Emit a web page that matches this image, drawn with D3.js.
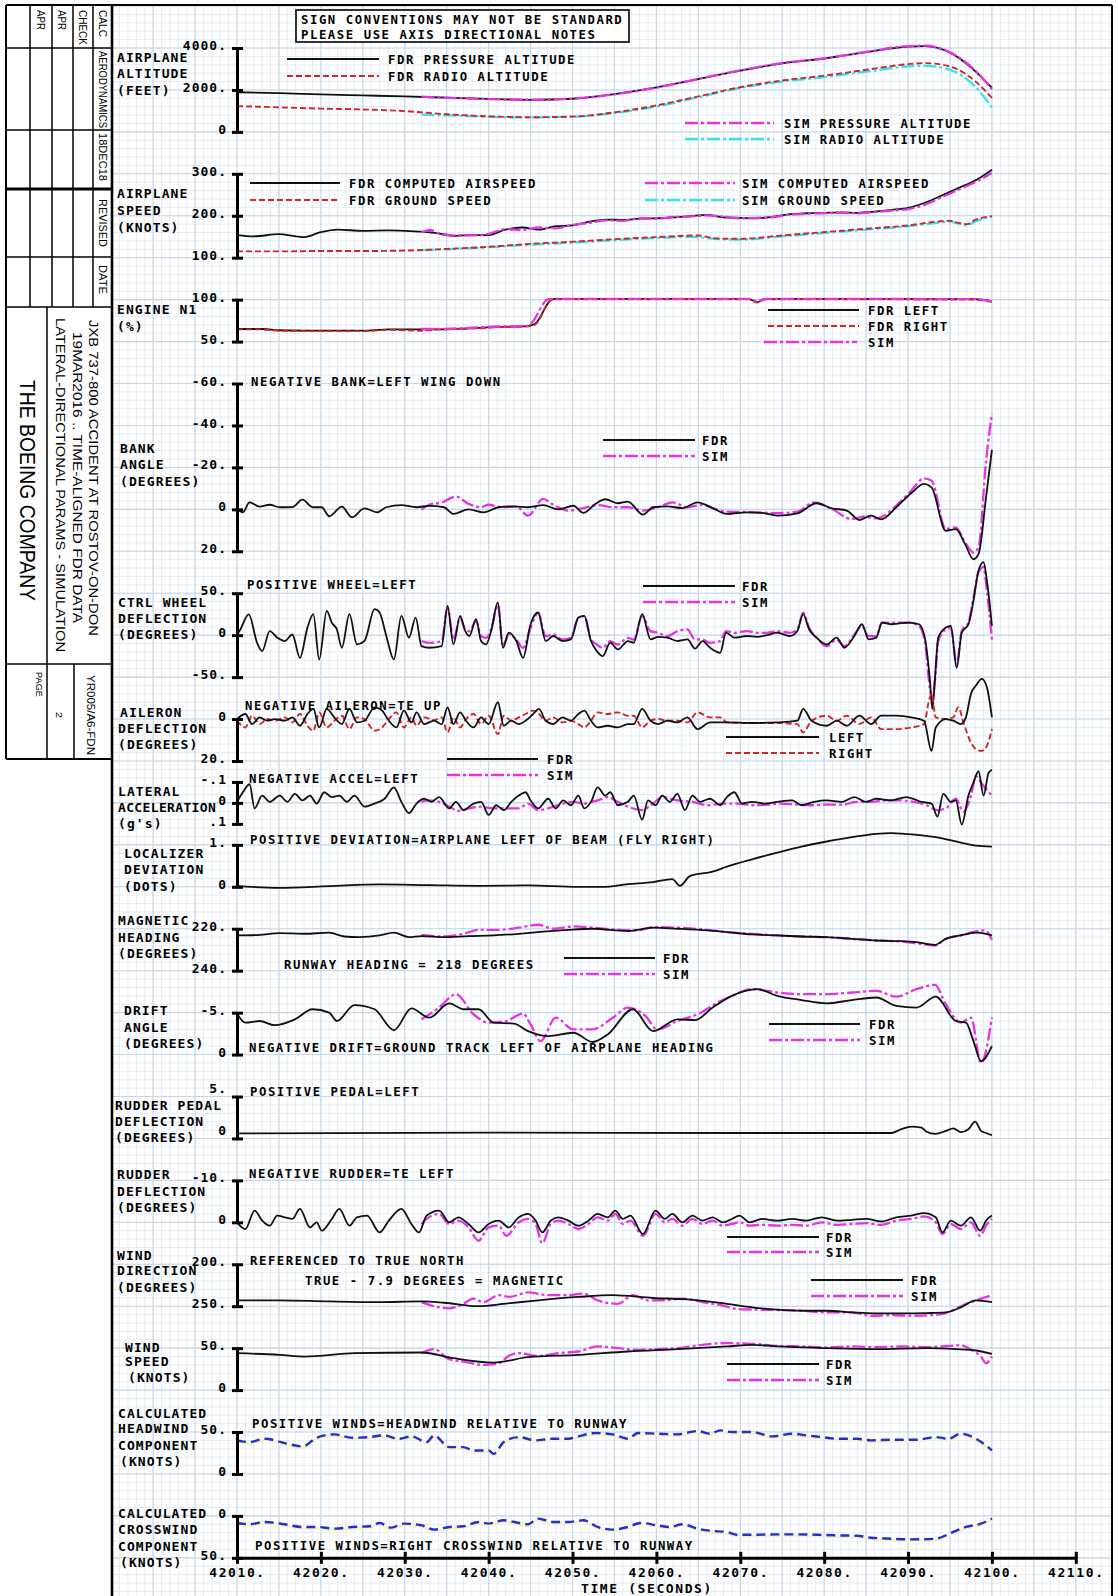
<!DOCTYPE html>
<html><head><meta charset="utf-8">
<script src="https://cdn.jsdelivr.net/npm/d3@7"></script>
<style>
html,body{margin:0;padding:0;background:#fff;}
svg{display:block;}
</style></head><body>
<script>
// ---------- time base ----------
const T0 = 42010;                       // seconds; series times are offsets from T0
const timeTicks = d3.range(42010, 42111, 10);

// ---------- tick values per panel ----------
const altTicks = [4000, 2000, 0];
const speedTicks = [300, 200, 100];
const n1Ticks = [100, 50];
const bankTicks = [-60, -40, -20, 0, 20];
const wheelTicks = [50, 0, -50];
const aileronTicks = [0, 20];
const latTicks = [-0.1, 0, 0.1];
const locTicks = [1, 0];
const headingTicks = [220, 240];
const driftTicks = [-5, 0];
const pedalTicks = [5, 0];
const rudderTicks = [-10, 0];
const windDirTicks = [200, 250];
const windSpdTicks = [50, 0];
const headwindTicks = [50, 0];
const crosswindTicks = [0, 50];

// ---------- series: [seconds after T0, value] ----------
const altFdrPressure = [[0,1890],[5,1850],[10,1790],[15,1740],[20,1690],[25,1630],[30,1570],[35,1530],[40,1580],[45,1800],[50,2120],[55,2520],[60,2920],[65,3270],[70,3500],[75,3800],[80,4070],[82,4090],[85,3780],[88,2900],[90,2100]];
const altFdrRadio = [[0,1230],[5,1170],[10,1110],[15,1070],[20,990],[25,840],[30,740],[35,700],[40,730],[45,930],[50,1260],[55,1690],[60,2130],[65,2450],[70,2680],[75,2960],[80,3230],[82,3280],[85,3120],[88,2420],[90,1620]];
const altSimPressure = [[22,1680],[25,1625],[30,1565],[35,1535],[40,1585],[45,1790],[50,2110],[55,2530],[60,2930],[65,3280],[70,3510],[75,3810],[80,4090],[82,4110],[85,3790],[88,2930],[90,2030]];
const altSimRadio = [[22,820],[25,790],[30,720],[35,690],[40,720],[45,900],[50,1210],[55,1650],[60,2100],[65,2400],[70,2610],[75,2870],[80,3120],[82,3150],[85,2960],[88,2160],[90,1170]];

const spdFdrCas = [[0,154],[2,151],[5,156],[7,151],[8,149],[10,161],[12,167],[15,164],[18,165],[20,164],[22,162],[24,158],[26,152],[28,154],[30,154],[32,167],[34,172],[36,167],[38,175],[40,177],[42,186],[44,191],[46,190],[48,193],[50,194],[52,196],[54,199],[56,202],[58,196],[60,195],[62,194],[64,198],[66,204],[68,206],[70,207],[72,208],[74,207],[76,210],[78,214],[80,219],[82,231],[84,248],[86,266],[88,284],[90,310]];
const spdFdrGround = [[0,115],[5,115],[10,116],[15,116],[20,117],[25,121],[30,126],[35,133],[40,138],[45,144],[50,149],[55,153],[57,146],[60,145],[65,153],[70,161],[75,169],[80,177],[83,185],[85,188],[86,183],[87,180],[88,190],[90,199]];
const spdSimCas = [[22,160],[23,166],[24,158],[26,153],[28,153],[30,157],[32,168],[34,166],[36,172],[38,170],[40,178],[42,183],[44,189],[46,188],[48,194],[50,193],[52,197],[54,198],[56,201],[58,198],[60,194],[62,195],[64,197],[66,203],[68,205],[70,206],[72,207],[74,206],[76,209],[78,212],[80,216],[82,226],[84,244],[86,262],[88,280],[90,302]];
const spdSimGround = [[22,118],[25,120],[30,125],[35,131],[40,136],[45,142],[50,147],[54,150],[57,145],[60,143],[65,151],[70,159],[75,167],[80,175],[83,182],[85,186],[86,181],[87,177],[88,186],[90,197]];

const n1FdrLeft = [[0,65],[3,65],[5,63.5],[8,63],[15,63],[18,64.5],[24,64.5],[28,66],[31,67.5],[34.5,68.5],[35.5,71],[37.5,100],[38,101],[61,101],[62,97],[63,101],[88,100.5],[90,98]];
const n1FdrRight = [[0,64.5],[3,64.5],[5,63],[8,62.5],[15,62.5],[18,64],[22,63],[24,64.5],[28,65.5],[31,67],[34.5,68],[35.5,70],[37.5,100],[38,100.5],[61,100.5],[62,96.5],[63,100.5],[88,100],[90,97.5]];
const n1Sim = [[22,65],[24,65],[28,66.5],[31,68],[34.5,68.5],[35,71],[37,100],[37.5,101],[61,101],[62,98],[63,101],[88,100.5],[90,98]];

const bankFdr = [[0,0],[0.7,1.4],[1.5,-3.3],[2.7,-1.3],[3.9,-2.2],[5.1,-1],[6.6,-1.1],[7.8,-4.6],[9,-1],[10.1,-1],[11,3.3],[12.5,-1.3],[13.7,3.8],[15.2,-0.5],[16.7,1.4],[17.8,-1],[19.6,-2],[21.4,-1],[22.9,-1.7],[24.7,-1],[25.8,2.2],[27.6,0],[29.4,1.4],[31.2,-1],[33,-1.4],[34.7,-1],[36.5,-2],[38.3,0],[40.1,-1.7],[41.3,1.7],[42.7,-2.5],[43.9,-4.8],[45.4,-2.9],[46.6,-3.7],[48.4,2.5],[49.6,-1],[51.3,-1.4],[53.1,-0.6],[54.9,-3.3],[56.7,-0.6],[58.4,2.2],[60.8,1.4],[62.6,1.7],[64.4,3],[66.8,1.9],[69.1,-2.9],[70.9,-0.5],[72.7,0.6],[74.2,5.1],[75.6,3],[76.8,4.8],[78.6,-1],[80.4,-7.8],[81.9,-12.1],[82.8,-10.5],[84.5,10.2],[85.7,9.4],[86.8,16.6],[87.8,23.8],[88.4,21.4],[89.3,-5.7],[90,-28.4]];
const bankSim = [[22,0],[22.9,-2.2],[24.4,-3.3],[26.1,-6.1],[27.6,-2.6],[29.1,-1],[30,-2.2],[31.5,-1],[33.3,-1.3],[34.7,3],[36.5,-5],[37.7,-2.2],[39.5,0.6],[41.3,-0.6],[43,-2],[44.8,-1],[46.6,-1],[48.4,0.6],[50.2,-1],[51.9,-3.3],[53.7,-1],[55.5,-2.2],[57,-0.2],[58.4,1.1],[61.4,1.3],[64.4,1.8],[66.8,1.1],[68.8,-3.3],[70.9,-0.2],[73.3,4.6],[74.8,3.5],[76.2,4.3],[78.6,-1.8],[80.4,-9],[81.9,-14.8],[82.8,-13.7],[84.5,9.4],[85.7,8.6],[86.8,15.8],[87.8,20.6],[88.4,18.2],[89.3,-23],[90,-45.6]];

const wheelFdr = [[0,0],[0.4,6.8],[1.4,24.8],[2.4,-9.2],[3,-19],[3.9,4.8],[4.8,-3],[5.7,-7],[6.6,0.8],[7.5,-27],[8.4,9],[9.1,25],[9.8,-29],[10.7,29],[11.3,15],[11.9,7],[12.5,-15],[13.4,25],[14.3,-11],[15.2,-7],[16.4,31],[17,27],[17.8,-1],[18.7,-29],[19.6,23],[20.5,-3],[21.3,21],[22,-13],[22.9,-15],[24.4,-13],[25.1,35],[25.8,-11],[26.6,23],[27.2,5],[27.7,-1],[28.5,19],[29.1,-7],[29.7,-11],[30.3,5],[31.1,39],[31.7,-15],[32.4,3],[33.3,-7],[34.1,-27],[35,13],[35.9,27],[36.8,-7],[37.7,-1],[38.8,-7],[39.8,-5],[40.7,21],[41.4,23],[42.2,-7],[42.9,-19],[43.6,-25],[44.5,-9],[45.4,-17],[46.6,-7],[47.3,-9],[48.3,25],[49.3,-5],[50.2,-2],[51.3,-3],[52.5,-7],[53.7,-5],[54.6,-16],[55.5,-7],[56.4,-15],[57.6,-21],[58.3,3],[59.3,-3],[60.8,-1],[62,-2],[63.2,0],[64.4,3],[65.9,-1],[66.8,5],[67.5,25],[68.2,7],[69.1,-3],[70.3,-11],[71.5,-3],[72.4,-15],[73.6,-1],[74.5,13],[75.3,-5],[76.2,-3],[76.9,15],[78,13],[78.9,14],[80.1,15],[81.3,13],[82,-3],[82.6,-53],[82.9,-88],[83.2,-53],[83.6,-3],[84.5,9],[85.1,11],[85.8,-39],[86.4,3],[87.2,13],[87.8,41],[88.4,77],[89,87],[89.4,65],[90,11]];
const wheelSim = [[22,-7.2],[22.9,-9.2],[24.4,-7.2],[25.1,32.8],[25.8,-5.2],[26.6,20.8],[27.2,6.8],[27.7,4.8],[28.5,16.8],[29.1,-1.2],[29.7,-3.2],[30.3,6.8],[31.1,36.8],[31.7,-13.2],[32.4,0.8],[33.3,-5.2],[34.1,-15.2],[35,8.8],[35.9,26.8],[36.8,-1.2],[37.7,0.8],[38.8,-5.2],[39.8,-3.2],[40.7,20.8],[41.4,22.8],[42.2,-5.2],[42.9,-11.2],[43.6,-15.2],[44.5,-7.2],[45.4,-11.2],[46.6,-3.2],[47.3,-5.2],[48.3,22.8],[49.3,4.8],[50.2,2.8],[51.3,-1.2],[52.5,4.8],[53.7,6.8],[54.6,-5.2],[55.5,-5.2],[56.4,-9.2],[57.6,-7.2],[58.3,4.8],[59.3,2.8],[60.8,4.8],[62,2.8],[63.2,2.8],[64.4,4.8],[65.9,2.8],[66.8,6.8],[67.5,26.8],[68.2,8.8],[69.1,-3.2],[70.3,-13.2],[71.5,-5.2],[72.4,-13.2],[73.6,0.8],[74.5,10.8],[75.3,-1.2],[76.2,-1.2],[76.9,14.8],[78,14.8],[78.9,14.8],[80.1,14.8],[81.3,10.8],[82,-7.2],[82.6,-63],[82.9,-79],[83.2,-55],[83.6,-7.2],[84.5,6.8],[85.1,8.8],[85.8,-35],[86.4,4.8],[87.2,14.8],[87.8,44.8],[88.4,75],[89,81],[89.4,53],[90,-5.2]];

const aileronLeft = [[0,0],[1,-2.4],[1.8,2.4],[2.7,-0.8],[3.6,0.8],[4.5,0],[5.7,0.8],[6.6,-0.8],[7.5,3.2],[8.4,-2.4],[9.1,-4.8],[9.8,4],[10.7,-4.8],[11.6,-0.8],[12.5,2.4],[13.4,-4.8],[14.3,1.6],[15.2,0.8],[16.4,-5.6],[17.3,-4],[18.1,0.8],[19,4],[19.9,-4],[20.8,1.6],[21.4,-3.2],[22.3,2.4],[23.5,0.8],[24.4,2.4],[25.1,-5.6],[25.8,2.4],[26.6,-3.2],[27.3,0.8],[28.2,4],[29.1,-0.8],[30,2.4],[31.1,-8],[31.8,3.2],[32.7,0.8],[33.6,2.4],[34.4,0.8],[35.3,-2.4],[36,-4.8],[36.8,0.8],[37.7,2.4],[38.8,-0.8],[39.8,0.8],[40.7,-2.4],[41.4,-4],[42.2,0.8],[43,4],[44.2,3.2],[45.4,4],[46.6,2.4],[47.3,2.4],[48.3,-4.8],[49.3,0.8],[50.2,2.4],[51.3,0.8],[52.5,1.6],[53.7,-0.8],[54.9,4.8],[56.4,1.6],[57.6,1.6],[58.4,1.6],[61.4,1.9],[64.4,1.6],[66.8,0.8],[67.5,-4.8],[68.5,0.8],[70.3,3.2],[71.5,0.8],[72.7,3.2],[74.2,-1.6],[75.6,2.4],[76.8,-1.6],[78.6,-1.6],[80.4,-0.8],[81.9,0.8],[82.8,15.2],[83.3,4],[84.5,0],[85.4,0.8],[86.3,2.4],[86.9,-0.8],[87.5,-12],[88.1,-16],[88.8,-19.2],[89.4,-15.2],[90,-0.8]];
const aileronRight = [[0,0.8],[1,4],[1.8,-1.6],[2.7,2.4],[3.6,0],[4.5,0.8],[5.7,-0.8],[6.6,1.6],[7.5,-2.4],[8.4,3.2],[9.1,5.6],[9.8,-3.2],[10.7,4],[11.6,0.8],[12.5,-1.6],[13.4,4.8],[14.3,-0.8],[15.2,0],[16.4,5.6],[17.3,4],[18.1,0],[19,-3.2],[19.9,4],[20.8,-0.8],[21.4,3.2],[22.3,-0.8],[23.5,0.5],[24.4,-0.8],[25.1,6.4],[25.8,-0.8],[26.6,4],[27.3,0],[28.2,-2.4],[29.1,2.4],[30,-1.6],[31.1,7.2],[31.8,-1.6],[32.7,0.8],[33.6,-0.8],[34.4,-2.4],[35.3,-4],[36,-2.4],[36.8,0.8],[37.7,-0.8],[38.8,1.6],[39.8,0.8],[40.7,2.4],[41.4,4],[42.2,0.8],[43,-3.2],[44.2,-2.4],[45.4,-3.2],[46.6,-1.6],[47.3,-1.6],[48.3,4],[49.3,0.8],[50.2,0],[51.3,0.8],[52.5,0.8],[53.7,1.6],[54.9,-3.2],[56.4,-0.8],[57.6,-0.8],[58.4,1.6],[61.4,1.9],[64.4,1.9],[66.8,2.4],[67.5,6.4],[68.5,0.8],[70.3,-1.6],[71.5,0.8],[72.7,-1.6],[74.2,2.4],[75.6,-0.8],[76.8,4.8],[78.6,4.8],[80.4,4],[81.9,2.4],[82.5,-8.8],[82.8,-12],[83.3,-0.8],[84.5,0],[85.4,-0.8],[86,-5.6],[86.6,1.6],[87.5,11.2],[88.1,14.4],[88.8,15.2],[89.4,12.8],[90,4.8]];

const latAccFdr = [[0,-0.005],[0.7,-0.051],[1.5,-0.089],[2.1,0.026],[3,-0.035],[3.9,-0.005],[5.1,-0.035],[6,-0.005],[6.9,-0.043],[7.8,-0.012],[8.7,-0.035],[9.5,0.003],[10.4,-0.051],[11.3,-0.028],[12.2,-0.035],[13.1,-0.005],[14,-0.035],[15.2,0.018],[16.4,0.003],[17.6,-0.02],[18.7,-0.074],[19.6,-0.005],[20.5,0.049],[21.4,0.003],[22.3,-0.02],[23.2,-0.005],[24.1,-0.028],[25.3,0.026],[26.1,-0.005],[27,0.034],[28.2,0.003],[29.1,-0.005],[30,0.057],[30.9,0.011],[31.8,0.034],[32.7,-0.005],[33.6,-0.035],[34.4,-0.051],[35,-0.012],[35.9,0.026],[37.1,-0.02],[38,0.026],[38.9,-0.012],[39.8,0.011],[40.7,-0.035],[41.4,0.026],[42.2,-0.005],[43,-0.074],[43.9,-0.035],[44.5,-0.051],[45.4,0.011],[46.6,-0.005],[47.3,-0.035],[48.3,0.08],[49,-0.012],[49.9,0.011],[50.7,-0.035],[51.6,-0.005],[52.5,-0.043],[53.4,0.034],[54.3,-0.035],[55.2,-0.005],[56.4,-0.02],[57.6,0.011],[58.4,-0.028],[59.3,-0.051],[60.2,0.003],[61.4,-0.005],[62.9,0.003],[64.4,-0.005],[66.2,-0.012],[67.3,0.011],[68.8,-0.005],[70.3,-0.012],[72.1,-0.005],[73.6,-0.028],[75,-0.005],[76.2,-0.02],[78,-0.012],[79.8,-0.028],[81.6,-0.005],[82.8,0.003],[83.5,0.065],[84.2,-0.043],[85.1,-0.005],[85.7,-0.012],[86.4,0.103],[87.2,-0.035],[87.8,-0.097],[88.4,-0.151],[89,-0.035],[89.6,-0.143],[90,-0.158]];
const latAccSim = [[22,-0.005],[22.9,-0.012],[24.1,-0.005],[25.3,0.018],[26.4,0.038],[27.6,0.026],[29.1,0.018],[30.6,0.026],[31.8,0.026],[33.6,0.026],[34.7,0.003],[35.9,0.034],[37.1,0.026],[38.3,0.011],[40.1,-0.005],[41.3,0.003],[43,-0.012],[44.2,-0.028],[45.4,-0.005],[46.6,0.018],[48.3,0.034],[49.6,0.003],[50.7,-0.028],[52.5,-0.012],[54.3,-0.005],[56.1,0.011],[57.9,0.003],[59.6,0.003],[61.4,0.011],[63.2,0.008],[65,0.003],[66.7,0.008],[68.5,0.011],[70.3,0.008],[72.1,0.008],[73.9,-0.005],[75.6,-0.005],[77.4,-0.012],[79.2,-0.012],[81,-0.002],[82.2,0.011],[83.5,0.034],[84.5,0.026],[85.7,-0.02],[86.6,0.042],[87.5,-0.035],[88.1,-0.128],[88.7,-0.097],[89.3,-0.066],[90,-0.035]];

const locDevFdr = [[0,0.016],[5.1,-0.024],[11,0.016],[17,0.056],[22.9,0.04],[28.8,0.024],[34.7,0.032],[40.7,0],[43.6,0],[46.6,0.064],[49.6,0.112],[51.9,0.184],[52.8,0.024],[54,0.256],[56.7,0.36],[58.4,0.48],[61.4,0.656],[64.4,0.816],[67.3,0.96],[70.3,1.08],[73.3,1.184],[76.2,1.264],[78,1.28],[81,1.24],[83.3,1.184],[86.3,1.056],[88.1,0.984],[90,0.96]];

const headingFdr = [[0,223.2],[2.7,222.9],[5.1,222.1],[8.1,222.4],[11,221.9],[12.8,223.7],[14.6,224],[17,223.2],[18.7,221.9],[20.5,224],[22,223.5],[24.7,224],[27.6,223.5],[30.6,223.2],[33.6,222.4],[35.9,221.6],[39.5,220.5],[42.4,220],[46.6,221.1],[49.6,219.5],[52.5,220],[56.1,220.8],[58.4,221.6],[61.4,222.7],[64.4,223.2],[67.3,223.7],[70.3,224],[73.3,224.8],[76.2,225.6],[79.2,225.9],[81,226.4],[83.2,227.7],[84.5,224.8],[86.3,223.2],[88.1,221.9],[89.3,222.4],[90,223.2]];
const headingSim = [[22,222.9],[24.7,223.7],[27,222.4],[28.8,220.5],[31.2,220.5],[33.6,219.5],[35.9,218.1],[37.7,220],[40.1,218.9],[42.4,219.5],[45.4,220.5],[47.8,220.8],[49.6,219.2],[52.5,219.5],[56.1,220.5],[58.4,221.6],[61.4,222.4],[64.4,223.2],[67.3,223.7],[70.3,224],[73.3,224.8],[76.2,225.6],[79.2,226.1],[81,226.9],[83.2,228],[84.5,224.8],[86.3,223.2],[88.1,221.3],[89.2,220.8],[90,225.3]];

const driftFdr = [[0,-4.9],[1,-3.8],[2.7,-4],[4.5,-3.5],[6.9,-4.2],[9,-5.4],[11,-5],[11.9,-4],[14,-5.9],[16.4,-5.4],[18.7,-2.9],[20.8,-5.5],[22.9,-4.4],[25.3,-6.1],[27,-5.4],[28.8,-5.4],[30.6,-3.8],[33,-3.7],[34.7,-2.8],[37.1,-2.2],[40.1,-2.6],[42.4,-1.5],[44.2,-2.4],[47.2,-5.4],[49.6,-2.8],[52.5,-4.2],[54.6,-4.1],[56.7,-5.6],[59,-7],[62,-7.8],[64.4,-7],[67.3,-6.5],[70.3,-6.1],[73.3,-6.5],[76.2,-6.8],[78.6,-5.8],[81,-5.6],[83.3,-6.9],[85.7,-4],[86.9,-3.8],[87.8,-1.6],[88.7,0.8],[90,-1]];
const driftSim = [[22,-4.2],[24.1,-5.6],[26.1,-7.2],[28.2,-4.8],[30,-3.8],[32.1,-4],[34.1,-4.9],[35,-3.6],[36.2,-1.6],[38,-4.4],[40.1,-3],[42.4,-3],[44.8,-4.4],[46.6,-5.6],[48.7,-4.6],[50.1,-3],[52.5,-4],[54.9,-4.8],[57.3,-6.2],[59,-7],[61.4,-7.8],[64.4,-7.4],[67.3,-7.2],[70.3,-7.2],[73.3,-7.4],[76.2,-7.6],[78.6,-6.9],[81,-7.8],[83.2,-8.3],[84.5,-6],[86.3,-3.8],[87.5,-4.4],[88.7,1],[90,-4.4]];

const pedalFdr = [[0,0.6],[30,0.7],[60,0.65],[78,0.65],[79.2,1.1],[80.4,1.4],[81.6,1.3],[82.2,0.8],[83.3,0.55],[84.5,0.9],[85.4,1.2],[86.3,0.75],[87.2,1.1],[88,2],[88.7,0.9],[89.3,0.65],[90,0.4]];

const rudderFdr = [[0,0],[1,1.6],[2.1,-2.8],[3,-0.4],[3.9,0.8],[4.8,-1.6],[5.7,-1.2],[6.6,-0.8],[7.5,-3.2],[8.7,1.2],[9.5,0],[10.1,2],[11.3,-0.8],[12.2,-3.2],[13.4,0.8],[14.3,-1.2],[15.5,-1.6],[17,2.4],[18.1,-0.4],[19.6,-3.2],[20.8,0.4],[21.7,2.4],[22.6,-1.6],[24.1,-2.8],[25.3,0],[26.4,-1.2],[27.6,0.4],[28.8,2.4],[30,0.4],[31.2,-0.4],[32.4,1.2],[33.6,-1.2],[34.7,-2],[35.6,-0.4],[36.4,2.4],[37.4,-0.4],[38.3,-1.2],[39.5,-0.4],[40.7,0.8],[41.9,-0.4],[43,-2],[44.2,-1.2],[45.1,-2.8],[46,-0.8],[46.9,-1.6],[48.4,2.8],[49.9,-2.8],[51,-0.8],[51.9,-2],[53.1,0],[54.3,-1.6],[55.5,-0.4],[56.7,-1.2],[57.9,0],[59,-0.8],[59.9,-1.6],[61.1,0],[62.6,-0.8],[64.4,-0.4],[66.2,-0.8],[67.9,-0.4],[69.7,-1.2],[71.5,-0.4],[73.3,-0.6],[75,-0.8],[76.8,-0.2],[78.6,-1.2],[80.4,-1.6],[81.9,-2.2],[83.3,-1.2],[84.1,2.4],[85.1,-0.4],[86.3,0.8],[87.5,-1.2],[88.6,2],[89.3,-0.4],[90,-1.6]];
const rudderSim = [[22,0.4],[22.6,-0.8],[24.1,-2],[25.3,0.4],[26.4,-0.4],[27.6,1.2],[28.8,4.4],[30,1.2],[31.2,0.8],[32.1,3.2],[33.6,0],[34.7,-0.8],[35.6,0.4],[36.4,5],[37.4,0.4],[38.3,-0.4],[39.5,0.4],[40.7,1.6],[41.9,0.4],[43,-1.2],[44.2,-0.4],[45.1,-2],[46,0.4],[46.9,-0.4],[48.4,3.2],[49.9,-2],[51,0],[51.9,-0.8],[53.1,0.8],[54.3,-0.8],[55.5,0.4],[56.7,-0.4],[57.9,0.8],[59,0.4],[59.9,0],[61.1,0.8],[62.6,0.6],[64.4,0.8],[66.2,0.6],[67.9,0.8],[69.7,0],[71.5,0.6],[73.3,0.4],[75,0.2],[76.8,0.6],[78.6,-0.4],[80.4,-0.8],[81.9,-1.4],[83.3,0],[84.1,2.8],[85.1,0.4],[86.3,1.6],[87.5,0],[88.6,3.2],[89.3,0.8],[90,-0.8]];

const windDirFdr = [[0,243],[5.1,243],[11,244.3],[17,245.1],[22,244.3],[24.7,245.9],[28.8,250],[31.8,247.2],[35.9,243],[40.7,239],[44.8,236.9],[49.6,240.2],[53.7,241.8],[58.4,247.2],[61.4,251.3],[64.4,254.1],[67.3,255.4],[70.3,255.4],[73.3,257.4],[76.2,258.6],[79.2,258.6],[82.2,258.2],[84.5,257.4],[86.3,251.3],[88.1,243],[90,245.1]];
const windDirSim = [[22,245.1],[23.5,250],[25.3,252.5],[27,247.2],[28.2,241],[29.4,245.1],[31.2,236.9],[32.4,239],[34.7,233.6],[37.1,236.9],[39.5,236.9],[41.3,234.9],[43,243],[45.4,247.2],[47.2,236.9],[49,243],[50.7,243],[53.1,241],[55.5,245.1],[57.9,249.2],[59.6,253.3],[62,254.1],[64.4,254.5],[67.3,255.4],[70.3,257.4],[73.3,257.4],[75.6,261.5],[78,260.7],[80.4,261.5],[82.8,260.7],[84.5,258.2],[86.3,250],[88.1,243],[90,236.9]];

const windSpdFdr = [[0,44],[5.1,42],[8.1,40],[14,44],[22,44.8],[25.8,38],[30.6,32.8],[34.7,39.2],[40.7,42],[46.6,46],[52.5,48.8],[58.4,52],[61.4,54],[64.4,52],[70.3,50],[76.2,48.8],[82.2,50],[85.7,48.8],[88.1,47.2],[90,43.2]];
const windSpdSim = [[22,44],[23.5,48.8],[25.3,36.8],[27,34],[29.4,30],[31.2,32],[32.4,40.8],[33.6,44],[35.9,40.8],[38.3,44],[40.7,46],[43,52],[45.4,50],[47.8,48],[50.1,48.8],[52.5,50],[55.5,54],[58.4,56],[61.4,55.2],[64.4,52.8],[67.3,52],[70.3,50.8],[73.3,52],[76.2,51.2],[79.2,52],[82.2,51.2],[85.1,52.8],[86.3,53.6],[87.5,48],[88.7,40],[89.3,32],[90,40]];

const headwindCalc = [[0,40],[1.5,38],[3.3,42],[5.7,36.8],[7.8,32.8],[9.5,43.2],[11.6,47.2],[13.7,43.2],[15.8,44],[17.5,46],[19.3,42],[20.8,44.8],[22.6,38],[23.5,46],[25.3,32],[27,32],[28.2,28],[30,28],[30.6,24],[31.8,38],[33.6,44],[35.6,40],[37.4,42],[39.5,42],[40.7,44.8],[42.7,48.8],[44.8,47.2],[46.6,42],[47.8,48.8],[50.1,48],[52.5,47.2],[54.9,51.2],[56.4,48],[57.6,52],[59,50],[61.4,50],[63.8,44.8],[66.2,48],[67.9,46],[69.7,44],[71.5,42],[73.9,42],[75.6,40],[78,40.8],[81,40.8],[83.3,44],[84.8,42],[86.3,48],[88.1,42],[89.3,34],[90,28]];
const crosswindCalc = [[0,8.4],[1.5,10],[3.3,7.2],[5.7,10],[7.8,13.2],[9.5,13.2],[11.6,15.2],[13.7,13.2],[15.8,12.4],[17,8.4],[18.4,14],[19.9,9.2],[22,11.2],[23.5,16.4],[25.3,13.2],[27,12.4],[28.8,7.2],[30,9.2],[31.8,5.2],[33.6,8.4],[34.7,10],[35.9,3.2],[37.7,7.2],[39.5,7.2],[41.3,5.2],[43,13.2],[44.8,16.4],[46.6,13.2],[48.1,8.4],[50.1,11.2],[51.6,13.2],[53.1,10],[54.9,15.2],[56.7,18],[58.4,19.2],[59.6,22.4],[62,22.4],[64.4,22],[66.8,22],[69.1,22.4],[71.5,23.2],[73.9,23.6],[75.6,26],[78,27.2],[80.4,28],[83.3,27.2],[85.1,20.4],[86.9,13.2],[88.7,9.2],[90,3.2]];

// ---------- page geometry ----------
const W = 1118, H = 1596;
const U = 41.94;                 // one grid division in px (also 5 s of time)
const TOP = 48;                  // first tick of the first panel
const X0 = 237;                  // panel axis x
const FRAME_L = 112, FRAME_R = 1112, FRAME_T = 5;
const MONO = "'DejaVu Sans Mono','Liberation Mono',monospace";
const NARROW = "'Liberation Sans Narrow','Arial Narrow','Liberation Sans',Arial,sans-serif";

const x = d3.scaleLinear().domain([42010, 42110]).range([X0, X0 + 20 * U]);

const STY = {
  fdr:     {stroke: '#111111', width: 1.8, dash: null},
  fdrRed:  {stroke: '#d42424', width: 1.9, dash: '6,3'},
  sim:     {stroke: '#e633e6', width: 2.3, dash: '13,3,3,3'},
  simCyan: {stroke: '#33e3f0', width: 2.3, dash: '13,3,3,3'},
  calc:    {stroke: '#2030cc', width: 2.4, dash: '9,5'}
};

const svg = d3.select('body').append('svg')
  .attr('width', W).attr('height', H).attr('viewBox', `0 0 ${W} ${H}`);
svg.append('rect').attr('width', W).attr('height', H).attr('fill', '#fff');

// ---------- graph-paper grid (inside the frame only) ----------
const grid = svg.append('g');
for (let gx = X0 - 3 * U + U / 5; gx <= FRAME_R + 0.1; gx += U / 5) {
  grid.append('line').attr('x1', gx).attr('x2', gx).attr('y1', FRAME_T).attr('y2', H)
    .attr('stroke', '#e4eef8').attr('stroke-width', 1);
}
for (let gy = TOP - U; gy <= H; gy += U / 5) {
  grid.append('line').attr('x1', FRAME_L).attr('x2', FRAME_R).attr('y1', gy).attr('y2', gy)
    .attr('stroke', '#e4eef8').attr('stroke-width', 1);
}
for (let k = -2; X0 + k * U <= FRAME_R; k++) {
  const gx = X0 + k * U;
  grid.append('line').attr('x1', gx).attr('x2', gx).attr('y1', FRAME_T).attr('y2', H)
    .attr('stroke', '#c2d8ed').attr('stroke-width', 1.1);
}
for (let k = -1; TOP + k * U <= H; k++) {
  const gy = TOP + k * U;
  grid.append('line').attr('x1', FRAME_L).attr('x2', FRAME_R).attr('y1', gy).attr('y2', gy)
    .attr('stroke', '#c2d8ed').attr('stroke-width', 1.1);
}

// ---------- helpers ----------
const fmtTick = v => v === 0 ? '0' : (Number.isInteger(v) ? v + '.' : String(v).replace('0.', '.'));

function monoText(g, str, px, py, size, spacing, anchor) {
  return g.append('text').attr('x', px).attr('y', py)
    .attr('font-family', MONO).attr('font-weight', 'bold')
    .attr('font-size', size).attr('letter-spacing', spacing)
    .attr('text-anchor', anchor || 'start').attr('fill', '#000').text(str);
}

function styled(sel, s) {
  sel.attr('fill', 'none').attr('stroke', s.stroke).attr('stroke-width', s.width)
    .attr('stroke-linejoin', 'round').attr('stroke-linecap', 'butt');
  if (s.dash) sel.attr('stroke-dasharray', s.dash);
  return sel;
}

// ---------- panels ----------
const panels = [
  {ticks: altTicks, row: 0, step: 1,
   label: [['AIRPLANE',117,62],['ALTITUDE',117,78],['(FEET)',117,95]],
   series: [[altFdrPressure,'fdr'],[altSimPressure,'sim'],[altSimRadio,'simCyan'],[altFdrRadio,'fdrRed']],
   legend: [['fdr','FDR PRESSURE ALTITUDE',287,379,59,388],['fdrRed','FDR RADIO ALTITUDE',287,379,76,388],
            ['sim','SIM PRESSURE ALTITUDE',685,774,123,784],['simCyan','SIM RADIO ALTITUDE',685,774,139,784]]},
  {ticks: speedTicks, row: 3, step: 1,
   label: [['AIRPLANE',117,198],['SPEED',117,215],['(KNOTS)',117,232]],
   series: [[spdFdrCas,'fdr'],[spdSimCas,'sim'],[spdSimGround,'simCyan'],[spdFdrGround,'fdrRed']],
   legend: [['fdr','FDR COMPUTED AIRSPEED',250,340,183,349],['fdrRed','FDR GROUND SPEED',250,340,200,349],
            ['sim','SIM COMPUTED AIRSPEED',645,735,183,742],['simCyan','SIM GROUND SPEED',645,735,200,742]]},
  {ticks: n1Ticks, row: 6, step: 1,
   label: [['ENGINE N1',117,314],['(%)',117,331]],
   series: [[n1FdrLeft,'fdr'],[n1FdrRight,'fdrRed'],[n1Sim,'sim']],
   legend: [['fdr','FDR LEFT',768,859,310,868],['fdrRed','FDR RIGHT',768,859,326,868],['sim','SIM',764,857,342,868]]},
  {ticks: bankTicks, row: 8, step: 1,
   label: [['BANK',120,453],['ANGLE',120,469],['(DEGREES)',120,486]],
   note: [['NEGATIVE BANK=LEFT WING DOWN',251,386]],
   series: [[bankSim,'sim'],[bankFdr,'fdr']],
   legend: [['fdr','FDR',603,695,440,702],['sim','SIM',603,695,456,702]]},
  {ticks: wheelTicks, row: 13, step: 1,
   label: [['CTRL WHEEL',118,607],['DEFLECTION',118,623],['(DEGREES)',118,639]],
   note: [['POSITIVE WHEEL=LEFT',247,589]],
   series: [[wheelSim,'sim'],[wheelFdr,'fdr']],
   legend: [['fdr','FDR',643,735,586,742],['sim','SIM',643,735,602,742]]},
  {ticks: aileronTicks, row: 16, step: 1,
   label: [['AILERON',120,717],['DEFLECTION',118,733],['(DEGREES)',118,749]],
   note: [['NEGATIVE AILERON=TE UP',245,710]],
   series: [[aileronRight,'fdrRed'],[aileronLeft,'fdr']],
   legend: [['fdr','LEFT',726,819,737,829],['fdrRed','RIGHT',726,819,753,829]]},
  {ticks: latTicks, row: 17.5, step: 0.5,
   label: [['LATERAL',118,796],['ACCELERATION',118,812,0.35],["(g's)",118,828]],
   note: [['NEGATIVE ACCEL=LEFT',249,783]],
   series: [[latAccSim,'sim'],[latAccFdr,'fdr']],
   legend: [['fdr','FDR',447,538,759,547],['sim','SIM',447,538,775,547]]},
  {ticks: locTicks, row: 19, step: 1,
   label: [['LOCALIZER',124,858],['DEVIATION',124,874],['(DOTS)',124,891]],
   note: [['POSITIVE DEVIATION=AIRPLANE LEFT OF BEAM (FLY RIGHT)',250,844]],
   series: [[locDevFdr,'fdr']],
   legend: []},
  {ticks: headingTicks, row: 21, step: 1,
   label: [['MAGNETIC',118,925],['HEADING',118,942],['(DEGREES)',118,958]],
   note: [['RUNWAY HEADING = 218 DEGREES',284,969]],
   series: [[headingSim,'sim'],[headingFdr,'fdr']],
   legend: [['fdr','FDR',564,655,958,663],['sim','SIM',564,655,974,663]]},
  {ticks: driftTicks, row: 23, step: 1,
   label: [['DRIFT',124,1015],['ANGLE',124,1032],['(DEGREES)',124,1048]],
   note: [['NEGATIVE DRIFT=GROUND TRACK LEFT OF AIRPLANE HEADING',249,1052]],
   series: [[driftSim,'sim'],[driftFdr,'fdr']],
   legend: [['fdr','FDR',769,860,1024,869],['sim','SIM',769,860,1040,869]]},
  {ticks: pedalTicks, row: 25, step: 1, tickDy: '-0.3em',
   label: [['RUDDER PEDAL',115,1110],['DEFLECTION',115,1126],['(DEGREES)',115,1142]],
   note: [['POSITIVE PEDAL=LEFT',250,1096]],
   series: [[pedalFdr,'fdr']],
   legend: []},
  {ticks: rudderTicks, row: 27, step: 1,
   label: [['RUDDER',117,1179],['DEFLECTION',117,1196],['(DEGREES)',117,1212]],
   note: [['NEGATIVE RUDDER=TE LEFT',249,1178]],
   series: [[rudderSim,'sim'],[rudderFdr,'fdr']],
   legend: [['fdr','FDR',727,819,1237,826],['sim','SIM',727,819,1252,826]]},
  {ticks: windDirTicks, row: 29, step: 1,
   label: [['WIND',117,1260],['DIRECTION',117,1275],['(DEGREES)',117,1292]],
   note: [['REFERENCED TO TRUE NORTH',250,1265],['TRUE - 7.9 DEGREES = MAGNETIC',305,1285]],
   series: [[windDirSim,'sim'],[windDirFdr,'fdr']],
   legend: [['fdr','FDR',811,903,1280,911],['sim','SIM',811,903,1296,911]]},
  {ticks: windSpdTicks, row: 31, step: 1,
   label: [['WIND',125,1352],['SPEED',125,1366],['(KNOTS)',128,1382]],
   series: [[windSpdSim,'sim'],[windSpdFdr,'fdr']],
   legend: [['fdr','FDR',727,819,1364,826],['sim','SIM',727,819,1380,826]]},
  {ticks: headwindTicks, row: 33, step: 1,
   label: [['CALCULATED',118,1418],['HEADWIND',118,1433],['COMPONENT',118,1450],['(KNOTS)',120,1466]],
   note: [['POSITIVE WINDS=HEADWIND RELATIVE TO RUNWAY',252,1428]],
   series: [[headwindCalc,'calc']],
   legend: []},
  {ticks: crosswindTicks, row: 35, step: 1,
   label: [['CALCULATED',118,1518],['CROSSWIND',118,1534],['COMPONENT',118,1551],['(KNOTS)',120,1567]],
   note: [['POSITIVE WINDS=RIGHT CROSSWIND RELATIVE TO RUNWAY',255,1550]],
   series: [[crosswindCalc,'calc']],
   legend: []}
];

const txt = svg.append('g');
const marks = svg.append('g');
const axes = svg.append('g');

panels.forEach(p => {
  const n = p.ticks.length;
  const yTop = TOP + p.row * U;
  const yBot = TOP + (p.row + p.step * (n - 1)) * U;
  const y = d3.scaleLinear().domain([p.ticks[0], p.ticks[n - 1]]).range([yTop, yBot]);

  // axis: an "I" bar with crossing ticks
  const ax = d3.axisLeft(y).tickValues(p.ticks).tickFormat(fmtTick)
    .tickSize(5).tickPadding(5).tickSizeOuter(0);
  const g = axes.append('g').attr('transform', `translate(${X0},0)`).call(ax);
  g.attr('font-family', MONO).attr('font-size', 13);
  g.select('.domain').attr('stroke', '#000').attr('stroke-width', 3);
  g.selectAll('.tick line').attr('x1', 6).attr('stroke', '#000').attr('stroke-width', 3);
  g.selectAll('.tick text').attr('font-weight', 'bold').attr('letter-spacing', 1)
    .attr('dy', p.tickDy || '0.12em').attr('fill', '#000');

  // panel title lines
  p.label.forEach(([s, lx, ly, ls]) => monoText(txt, s, lx, ly, 13, ls === undefined ? 1.1 : ls));
  // sign-convention notes
  (p.note || []).forEach(([s, lx, ly]) => monoText(txt, s, lx, ly, 12.3, 1.55));

  // data lines
  const line = d3.line().x(d => x(T0 + d[0])).y(d => y(d[1])).curve(d3.curveMonotoneX);
  p.series.forEach(([data, key]) => {
    if (key === 'calc') {
      marks.append('path').attr('d', line(data)).attr('fill', 'none')
        .attr('stroke', '#f5f2c4').attr('stroke-width', 2.6)
        .attr('transform', 'translate(0,1.5)');
    }
    styled(marks.append('path').attr('d', line(data)), STY[key]);
  });

  // legends
  p.legend.forEach(([key, s, lx1, lx2, ly, tx]) => {
    styled(marks.append('line').attr('x1', lx1).attr('x2', lx2).attr('y1', ly).attr('y2', ly), STY[key]);
    monoText(txt, s, tx, ly + 4.6, 12.3, 1.55);
  });
});

// ---------- time axis ----------
const YB = TOP + 36 * U;
const xAxis = d3.axisBottom(x).tickValues(timeTicks).tickFormat(d => d + '.')
  .tickSize(6).tickPadding(4).tickSizeOuter(0);
const gx = axes.append('g').attr('transform', `translate(0,${YB})`).call(xAxis);
gx.attr('font-family', MONO).attr('font-size', 13);
gx.select('.domain').attr('stroke', '#000').attr('stroke-width', 3);
gx.selectAll('.tick line').attr('y1', -6).attr('stroke', '#000').attr('stroke-width', 3);
gx.selectAll('.tick text').attr('font-weight', 'bold').attr('letter-spacing', 1.6).attr('fill', '#000');
monoText(txt, 'TIME (SECONDS)', 581, 1593, 13, 1.6);

// ---------- notice box ----------
const box = svg.append('g');
box.append('rect').attr('x', 296).attr('y', 10).attr('width', 333).attr('height', 32)
  .attr('fill', '#fff').attr('stroke', '#000').attr('stroke-width', 1.6);
monoText(box, 'SIGN CONVENTIONS MAY NOT BE STANDARD', 301, 23.5, 12.3, 1.55);
monoText(box, 'PLEASE USE AXIS DIRECTIONAL NOTES', 301, 38.5, 12.3, 1.55);

// ---------- frame and title block ----------
const fr = svg.append('g').attr('stroke', '#000').attr('fill', 'none');
const seg = (x1, y1, x2, y2, w) => fr.append('line').attr('x1', x1).attr('y1', y1)
  .attr('x2', x2).attr('y2', y2).attr('stroke-width', w || 1.5);
seg(6, FRAME_T, FRAME_R, FRAME_T, 2);
seg(6, FRAME_T, 6, 759, 2);
seg(FRAME_L, FRAME_T, FRAME_L, H, 2.6);
seg(FRAME_R, FRAME_T, FRAME_R, H, 2);
[30, 52, 73, 93].forEach(cx => seg(cx, FRAME_T, cx, 307));
[48, 130, 257, 307, 664].forEach(ry => seg(6, ry, FRAME_L, ry));
seg(6, 189, FRAME_L, 189, 3);
seg(47, 307, 47, 759);
seg(74, 664, 74, 759);
seg(6, 759, FRAME_L, 759, 2);

const tb = svg.append('g');
function vText(str, cx, y1, y2, size, family, weight) {
  const len = y2 - y1;
  tb.append('text')
    .attr('transform', `translate(${cx - size * 0.36},${(y1 + y2) / 2}) rotate(90)`)
    .attr('text-anchor', 'middle').attr('font-family', family || NARROW)
    .attr('font-weight', weight || 'normal').attr('font-size', size)
    .attr('textLength', len).attr('lengthAdjust', 'spacingAndGlyphs')
    .attr('fill', '#000').text(str);
}
vText('APR', 41, 10, 30, 10);
vText('APR', 62, 10, 30, 10);
vText('CHECK', 83, 10, 45, 10);
vText('CALC', 103, 10, 37, 10);
vText('AERODYNAMICS', 103, 51, 128, 10);
vText('18DEC18', 103, 133, 181, 10);
vText('REVISED', 103, 199, 247, 10);
vText('DATE', 103, 265, 294, 10);
vText('THE BOEING COMPANY', 28, 380, 601, 22);
vText('JXB 737-800 ACCIDENT AT ROSTOV-ON-DON', 94, 320, 636, 13);
vText('19MAR2016 .. TIME-ALIGNED FDR DATA', 78, 332, 623, 13);
vText('LATERAL-DIRECTIONAL PARAMS - SIMULATION', 61, 318, 652, 13);
vText('PAGE', 39, 672, 697, 9);
vText('2', 59, 712, 718, 9);
vText('YR005/A6-FDN', 91, 675, 755, 10);
</script>
</body></html>
